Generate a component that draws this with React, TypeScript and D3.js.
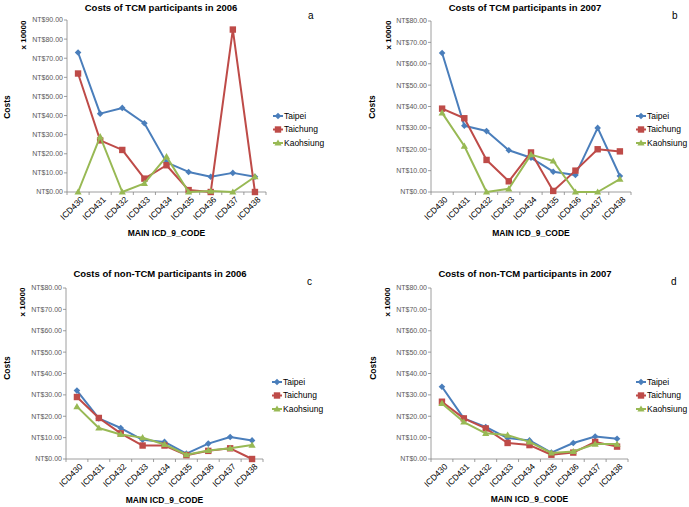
import React from "react";
import * as d3 from "d3";

const codes = ["ICD430", "ICD431", "ICD432", "ICD433", "ICD434", "ICD435", "ICD436", "ICD437", "ICD438"];
const cities = ["Taipei", "Taichung", "Kaohsiung"];

// values are NT$ x 10000
const tcm2006Taipei = [73, 41, 44, 36, 15.5, 10.5, 8, 10, 8];
const tcm2006Taichung = [62, 27, 22, 7, 14, 1, 0, 85, 0];
const tcm2006Kaohsiung = [0, 29, 0, 4.5, 18.5, 0, 0.5, 0, 8];

const tcm2007Taipei = [65, 31, 28.5, 19.5, 16, 9.5, 8, 30, 7.5];
const tcm2007Taichung = [39, 34.5, 15, 5, 18.5, 0.5, 10, 20, 19];
const tcm2007Kaohsiung = [37, 21.5, 0, 1.5, 17.5, 14.5, 0, 0, 6];

const non2006Taipei = [32, 19, 14.5, 9, 8, 2.5, 7.2, 10.3, 8.7];
const non2006Taichung = [29, 19.2, 12, 6.3, 6.3, 1.8, 3.8, 5, 0];
const non2006Kaohsiung = [24.5, 14.5, 11.5, 10, 6.8, 2, 4, 5, 6.5];

const non2007Taipei = [33.8, 19, 15, 9.8, 8.7, 3, 7.5, 10.5, 9.5];
const non2007Taichung = [26.8, 19, 14.3, 7.5, 6.5, 2, 3, 8, 5.8];
const non2007Kaohsiung = [26, 17.3, 12, 11.2, 8, 2.8, 3.5, 7, 7];

const colors = ["#4a7ebb", "#be4b48", "#98b954"];
const font = "'Liberation Sans', Arial, sans-serif";

interface PanelProps {
  ox: number;
  oy: number;
  title: string;
  letter: string;
  series: number[][];
  yMax: number;
  top: number;
  bottom: number;
  left: number;
  right: number;
  titleY: number;
  titleX: number;
  letterX: number;
  letterY: number;
  legendX: number;
  legendY: number;
  costsX: number;
  costsY: number;
  multX: number;
  multY: number;
  xTitleY: number;
}

const Marker: React.FC<{ i: number; x: number; y: number }> = ({ i, x, y }) => {
  if (i === 0) {
    const s = 3.3;
    return <path d={`M${x},${y - s}L${x + s},${y}L${x},${y + s}L${x - s},${y}Z`} fill={colors[0]} />;
  }
  if (i === 1) {
    return <rect x={x - 3.2} y={y - 3.2} width={6.4} height={6.4} fill={colors[1]} />;
  }
  return <path d={`M${x},${y - 3.6}L${x + 3.6},${y + 2.6}L${x - 3.6},${y + 2.6}Z`} fill={colors[2]} />;
};

const Panel: React.FC<PanelProps> = (p) => {
  const x = d3.scaleBand<string>().domain(codes).range([p.left, p.right]);
  const y = d3.scaleLinear().domain([0, p.yMax]).range([p.bottom, p.top]);
  const ticks = d3.range(0, p.yMax + 0.001, 10);
  const line = d3
    .line<number>()
    .x((_, i) => (x(codes[i]) as number) + x.bandwidth() / 2)
    .y((d) => y(d));
  return (
    <g transform={`translate(${p.ox},${p.oy})`} fontFamily={font}>
      <text x={p.titleX} y={p.titleY} textAnchor="middle" fontSize={9.5} fontWeight="bold" fill="#000">
        {p.title}
      </text>
      <text x={p.letterX} y={p.letterY} fontSize={10} fill="#000">
        {p.letter}
      </text>
      <text transform={`translate(${p.costsX},${p.costsY}) rotate(-90)`} textAnchor="middle" fontSize={8.5} fontWeight="bold">
        Costs
      </text>
      <text transform={`translate(${p.multX},${p.multY}) rotate(-90)`} textAnchor="middle" fontSize={8} fontWeight="bold">
        x 10000
      </text>
      <line x1={p.left} x2={p.left} y1={p.top} y2={p.bottom} stroke="#868686" strokeWidth={0.8} />
      <line x1={p.left} x2={p.right} y1={p.bottom} y2={p.bottom} stroke="#868686" strokeWidth={0.8} />
      {ticks.map((t) => (
        <g key={t}>
          <line x1={p.left - 3} x2={p.left} y1={y(t)} y2={y(t)} stroke="#868686" strokeWidth={0.8} />
          <text x={p.left - 4} y={y(t)} dy="0.35em" textAnchor="end" fontSize={7} fill="#595959">
            {`NT$${t.toFixed(2)}`}
          </text>
        </g>
      ))}
      {codes.map((c, i) => (
        <g key={c}>
          <line
            x1={(x(c) as number) + x.bandwidth()}
            x2={(x(c) as number) + x.bandwidth()}
            y1={p.bottom}
            y2={p.bottom + 3}
            stroke="#868686"
            strokeWidth={0.8}
          />
          {i === 0 && (
            <line x1={p.left} x2={p.left} y1={p.bottom} y2={p.bottom + 3} stroke="#868686" strokeWidth={0.8} />
          )}
          <text
            transform={`translate(${(x(c) as number) + x.bandwidth() / 2 + 4},${p.bottom + 6}) rotate(-45)`}
            textAnchor="end"
            dy="0.35em"
            fontSize={8.5}
            fill="#000"
          >
            {c}
          </text>
        </g>
      ))}
      <text x={(p.left + p.right) / 2} y={p.xTitleY} textAnchor="middle" fontSize={8.5} fontWeight="bold">
        MAIN ICD_9_CODE
      </text>
      {p.series.map((s, si) => (
        <g key={si}>
          <path d={line(s) as string} fill="none" stroke={colors[si]} strokeWidth={2} strokeLinejoin="round" />
          {s.map((v, i) => (
            <Marker key={i} i={si} x={(x(codes[i]) as number) + x.bandwidth() / 2} y={y(v)} />
          ))}
        </g>
      ))}
      {cities.map((c, i) => (
        <g key={c} transform={`translate(${p.legendX},${p.legendY + i * 13.5})`}>
          <line x1={0} x2={10} y1={0} y2={0} stroke={colors[i]} strokeWidth={2} />
          <Marker i={i} x={5} y={0} />
          <text x={11} y={0} dy="0.35em" fontSize={8.5} fill="#000">
            {c}
          </text>
        </g>
      ))}
    </g>
  );
};

export default function App() {
  return (
    <svg width={689} height={507} style={{ display: "block", position: "absolute", left: 0, top: 0 }}>
      <rect width={689} height={507} fill="#fff" />
      <Panel
        ox={0}
        oy={0}
        title="Costs of TCM participants in 2006"
        letter="a"
        series={[tcm2006Taipei, tcm2006Taichung, tcm2006Kaohsiung]}
        yMax={90}
        top={20}
        bottom={192}
        left={67}
        right={266}
        titleX={161}
        titleY={11}
        letterX={308}
        letterY={19}
        legendX={273}
        legendY={116}
        costsX={10}
        costsY={107}
        multX={26}
        multY={35}
        xTitleY={236}
      />
      <Panel
        ox={345}
        oy={0}
        title="Costs of TCM participants in 2007"
        letter="b"
        series={[tcm2007Taipei, tcm2007Taichung, tcm2007Kaohsiung]}
        yMax={80}
        top={21}
        bottom={192}
        left={86}
        right={286}
        titleX={180}
        titleY={11}
        letterX={327}
        letterY={19}
        legendX={291}
        legendY={116}
        costsX={30}
        costsY={107}
        multX={46}
        multY={35}
        xTitleY={236}
      />
      <Panel
        ox={0}
        oy={255}
        title="Costs of non-TCM participants in 2006"
        letter="c"
        series={[non2006Taipei, non2006Taichung, non2006Kaohsiung]}
        yMax={80}
        top={33}
        bottom={204}
        left={66}
        right={263}
        titleX={160}
        titleY={22}
        letterX={307}
        letterY={30}
        legendX={272}
        legendY={127}
        costsX={10}
        costsY={113}
        multX={25}
        multY={47}
        xTitleY={248}
      />
      <Panel
        ox={345}
        oy={255}
        title="Costs of non-TCM participants in 2007"
        letter="d"
        series={[non2007Taipei, non2007Taichung, non2007Kaohsiung]}
        yMax={80}
        top={33}
        bottom={204}
        left={86}
        right={283}
        titleX={180}
        titleY={22}
        letterX={326}
        letterY={30}
        legendX={291}
        legendY={127}
        costsX={31}
        costsY={113}
        multX={45}
        multY={47}
        xTitleY={247}
      />
    </svg>
  );
}
